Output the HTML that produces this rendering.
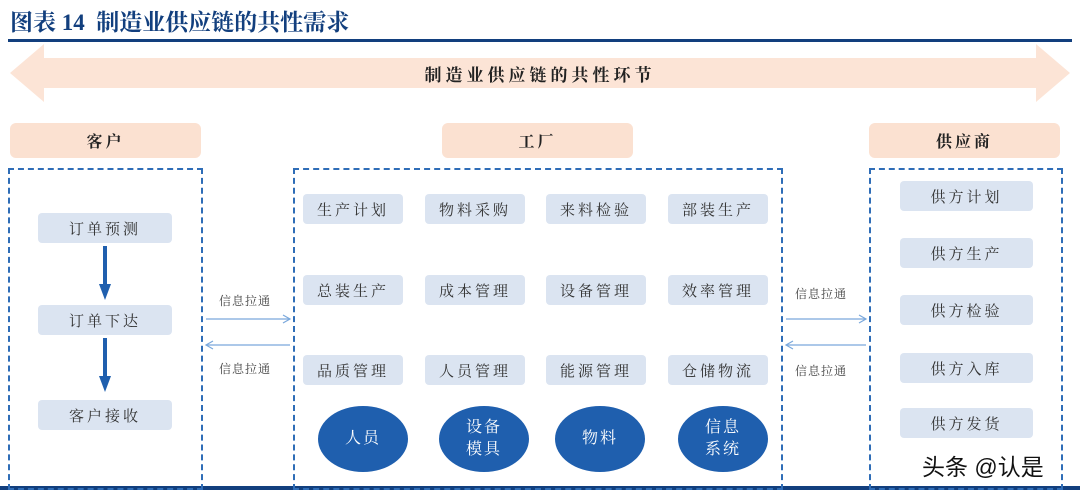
<!DOCTYPE html><html><head><meta charset="utf-8"><style>
body{margin:0;width:1080px;height:492px;background:#fff;position:relative;overflow:hidden;font-family:"Liberation Serif","Noto Serif CJK SC",serif;}
.a{position:absolute;box-sizing:border-box;}
.t{display:flex;align-items:center;justify-content:center;color:#333;font-size:15px;letter-spacing:3px;}
.h{background:#fbe1d1;border-radius:6px;font-size:16px;font-weight:bold;color:#222;}
.g{background:#dbe4f1;border-radius:4px;}
.d{border:2px dashed #2f6db7;}
.c{background:#1f5fae;border-radius:50%;color:#fff;font-size:16px;letter-spacing:2px;text-align:center;line-height:22px;}
.l{font-size:12px;color:#444;letter-spacing:1px;}
</style></head><body>
<div class="a" style="left:10px;top:4px;font-size:23px;font-weight:bold;color:#123f7e;">图表 14&nbsp; 制造业供应链的共性需求</div>
<div class="a" style="left:8px;top:39px;width:1064px;height:3px;background:#123f7e"></div>
<svg class="a" style="left:0;top:0" width="1080" height="492">
<polygon points="10,73 44,44 44,58 1036,58 1036,44 1070,73 1036,102 1036,88 44,88 44,102" fill="#fce4d6"/>
<g stroke="#7aa8dc" stroke-width="1.2" fill="none">
<line x1="206" y1="319" x2="290" y2="319"/><polyline points="283,315 290,319 283,323"/>
<line x1="206" y1="345" x2="290" y2="345"/><polyline points="213,341 206,345 213,349"/>
<line x1="786" y1="319" x2="866" y2="319"/><polyline points="859,315 866,319 859,323"/>
<line x1="786" y1="345" x2="866" y2="345"/><polyline points="793,341 786,345 793,349"/>
</g>
<g fill="#1f5fae"><rect x="103" y="246" width="4" height="40"/><polygon points="99,284 111,284 105,300"/>
<rect x="103" y="338" width="4" height="40"/><polygon points="99,376 111,376 105,392"/></g>
<rect x="0" y="486" width="1080" height="4" fill="#123f7e"/>
</svg>
<div class="a t" style="left:340px;top:60px;width:400px;height:26px;font-size:17px;font-weight:bold;letter-spacing:4px;color:#222">制造业供应链的共性环节</div>
<div class="a t h" style="left:10px;top:123px;width:191px;height:35px">客户</div>
<div class="a t h" style="left:442px;top:123px;width:191px;height:35px">工厂</div>
<div class="a t h" style="left:869px;top:123px;width:191px;height:35px">供应商</div>
<div class="a d" style="left:8px;top:168px;width:195px;height:322px"></div>
<div class="a d" style="left:293px;top:168px;width:490px;height:322px"></div>
<div class="a d" style="left:869px;top:168px;width:194px;height:322px"></div>
<div class="a t g" style="left:38px;top:213px;width:134px;height:30px">订单预测</div>
<div class="a t g" style="left:38px;top:305px;width:134px;height:30px">订单下达</div>
<div class="a t g" style="left:38px;top:400px;width:134px;height:30px">客户接收</div>
<div class="a t g" style="left:303px;top:194px;width:100px;height:30px">生产计划</div>
<div class="a t g" style="left:425px;top:194px;width:100px;height:30px">物料采购</div>
<div class="a t g" style="left:546px;top:194px;width:100px;height:30px">来料检验</div>
<div class="a t g" style="left:668px;top:194px;width:100px;height:30px">部装生产</div>
<div class="a t g" style="left:303px;top:275px;width:100px;height:30px">总装生产</div>
<div class="a t g" style="left:425px;top:275px;width:100px;height:30px">成本管理</div>
<div class="a t g" style="left:546px;top:275px;width:100px;height:30px">设备管理</div>
<div class="a t g" style="left:668px;top:275px;width:100px;height:30px">效率管理</div>
<div class="a t g" style="left:303px;top:355px;width:100px;height:30px">品质管理</div>
<div class="a t g" style="left:425px;top:355px;width:100px;height:30px">人员管理</div>
<div class="a t g" style="left:546px;top:355px;width:100px;height:30px">能源管理</div>
<div class="a t g" style="left:668px;top:355px;width:100px;height:30px">仓储物流</div>
<div class="a c t" style="left:318px;top:406px;width:90px;height:66px;color:#fff">人员</div>
<div class="a c t" style="left:439px;top:406px;width:90px;height:66px;color:#fff">设备<br>模具</div>
<div class="a c t" style="left:555px;top:406px;width:90px;height:66px;color:#fff">物料</div>
<div class="a c t" style="left:678px;top:406px;width:90px;height:66px;color:#fff">信息<br>系统</div>
<div class="a t g" style="left:900px;top:181px;width:133px;height:30px">供方计划</div>
<div class="a t g" style="left:900px;top:238px;width:133px;height:30px">供方生产</div>
<div class="a t g" style="left:900px;top:295px;width:133px;height:30px">供方检验</div>
<div class="a t g" style="left:900px;top:353px;width:133px;height:30px">供方入库</div>
<div class="a t g" style="left:900px;top:408px;width:133px;height:30px">供方发货</div>
<div class="a l" style="left:219px;top:292px">信息拉通</div>
<div class="a l" style="left:219px;top:360px">信息拉通</div>
<div class="a l" style="left:795px;top:285px">信息拉通</div>
<div class="a l" style="left:795px;top:362px">信息拉通</div>
<div class="a" style="left:922px;top:448px;font-family:'Liberation Sans','Noto Sans CJK SC',sans-serif;font-size:23px;color:#111">头条 @认是</div>
</body></html>
